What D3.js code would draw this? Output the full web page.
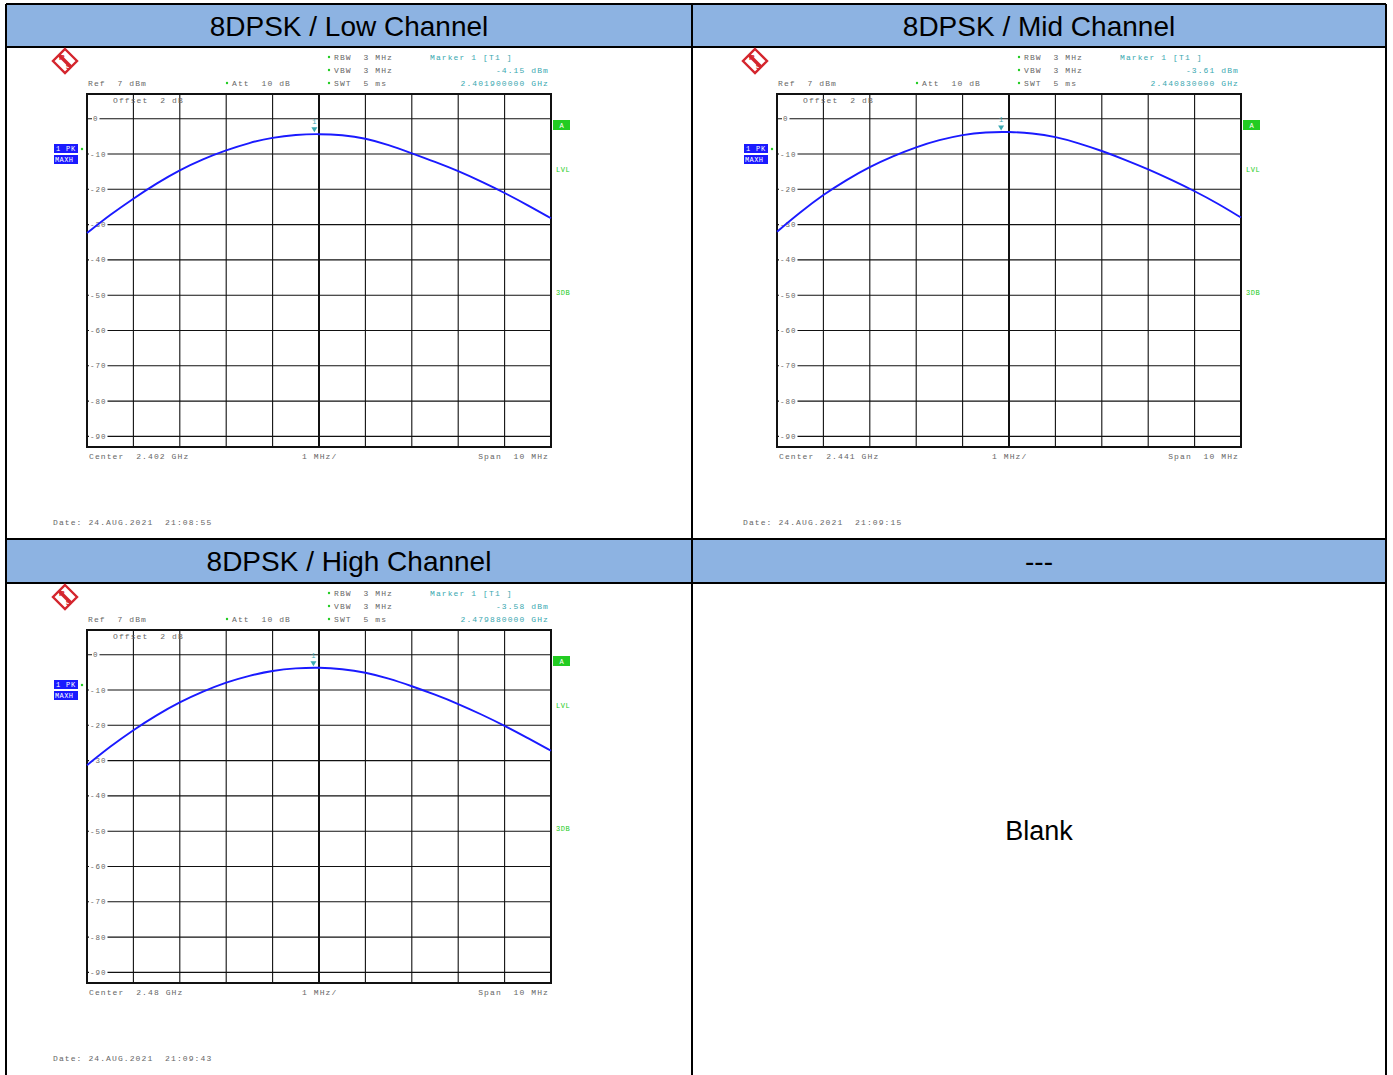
<!DOCTYPE html>
<html><head><meta charset="utf-8">
<script src="https://cdn.jsdelivr.net/npm/d3@7"></script>
<style>
html,body{margin:0;padding:0;background:#fff;}
svg{display:block;}
.mono{font-family:"Liberation Mono","DejaVu Sans Mono",monospace;font-size:8px;letter-spacing:1.1px;white-space:pre;}
</style></head>
<body><svg id="c" width="1393" height="1075"></svg>
<script>
// ---------- data ----------
const titles = ["8DPSK / Low Channel", "8DPSK / Mid Channel", "8DPSK / High Channel", "---"];
const freqOffsetsMHz = [-5, -4.5, -4, -3.5, -3, -2.5, -2, -1.5, -1, -0.5, 0, 0.5, 1, 1.5, 2, 2.5, 3, 3.5, 4, 4.5, 5];
const lowTrace  = [-32.4, -27.2, -22.6, -18.3, -14.5, -11.4, -8.9, -6.8, -5.3, -4.5, -4.3, -4.6, -5.5, -7.4, -9.8, -12.2, -14.8, -17.8, -21.0, -24.5, -28.2];
const midTrace  = [-32.0, -26.5, -21.5, -17.3, -13.6, -10.6, -8.0, -6.0, -4.5, -3.8, -3.7, -4.1, -5.1, -6.9, -9.1, -11.6, -14.3, -17.3, -20.5, -24.0, -28.0];
const highTrace = [-31.3, -26.0, -21.3, -17.1, -13.4, -10.4, -7.8, -5.9, -4.5, -3.8, -3.6, -4.0, -5.0, -6.7, -8.9, -11.3, -13.9, -16.9, -20.1, -23.6, -27.2];
const yTickValues = [0, -10, -20, -30, -40, -50, -60, -70, -80, -90];
const xGridMHz = [-4, -3, -2, -1, 0, 1, 2, 3, 4];
const centerLabels = ["Center  2.402 GHz", "Center  2.441 GHz", "Center  2.48 GHz"];
const markerOffsetsMHz = [-0.10, -0.17, -0.12];
const markerValues = [-4.15, -3.61, -3.58];
const markerLevelLabels = ["-4.15 dBm", "-3.61 dBm", "-3.58 dBm"];
const markerFreqLabels = ["2.401900000 GHz", "2.440830000 GHz", "2.479880000 GHz"];
const dateLabels = ["Date: 24.AUG.2021  21:08:55", "Date: 24.AUG.2021  21:09:15", "Date: 24.AUG.2021  21:09:43"];
const traces = [lowTrace, midTrace, highTrace];
const refLevel = 7, bottomLevel = -93;

// ---------- layout ----------
const svg = d3.select("#c");
const W = 1393, H = 1075;
const headerFill = "#8db3e2";
const tblL = 6, tblM = 692, tblR = 1386;
const rowsY = [4, 47, 539, 583];

svg.append("rect").attr("x", tblL).attr("y", rowsY[0]).attr("width", tblR - tblL).attr("height", rowsY[1] - rowsY[0]).attr("fill", headerFill);
svg.append("rect").attr("x", tblL).attr("y", rowsY[2]).attr("width", tblR - tblL).attr("height", rowsY[3] - rowsY[2]).attr("fill", headerFill);

const cellCenters = [(tblL + tblM) / 2, (tblM + tblR) / 2];
titles.forEach((t, i) => {
  const cx = cellCenters[i % 2];
  const cy = i < 2 ? (rowsY[0] + rowsY[1]) / 2 : (rowsY[2] + rowsY[3]) / 2;
  svg.append("text").attr("x", cx).attr("y", cy + 10)
    .attr("text-anchor", "middle")
    .attr("font-family", "Liberation Sans, Arial, sans-serif")
    .attr("font-size", 28).attr("fill", "#000").text(t);
});

svg.append("text").attr("x", cellCenters[1]).attr("y", 840)
  .attr("text-anchor", "middle").attr("font-family", "Liberation Sans, Arial, sans-serif")
  .attr("font-size", 27).attr("fill", "#000").text("Blank");

const lineCol = "#000";
[[tblL, rowsY[0], tblR, rowsY[0]], [tblL, rowsY[1], tblR, rowsY[1]], [tblL, rowsY[2], tblR, rowsY[2]], [tblL, rowsY[3], tblR, rowsY[3]],
 [tblL, rowsY[0], tblL, H], [tblM, rowsY[0], tblM, H], [tblR, rowsY[0], tblR, H]].forEach(l => {
  svg.append("line").attr("x1", l[0]).attr("y1", l[1]).attr("x2", l[2]).attr("y2", l[3])
    .attr("stroke", lineCol).attr("stroke-width", 2);
});

// ---------- panels ----------
const panelOffsets = [[0, 0], [690, 0], [0, 536]];
const gray = "#666", teal = "#3aa8b0", green = "#22cc22", blue = "#1a1aff", red = "#d4252d";

function txt(g, x, y, s, color, anchor) {
  return g.append("text").attr("class", "mono").attr("x", x).attr("y", y)
    .attr("fill", color).attr("text-anchor", anchor || "start").text(s);
}

panelOffsets.forEach((off, p) => {
  const g = svg.append("g").attr("transform", `translate(${off[0]},${off[1]})`);
  const gl = 87, gr = 551, gt = 94, gb = 447;
  const x = d3.scaleLinear().domain([-5, 5]).range([gl, gr]);
  const y = d3.scaleLinear().domain([bottomLevel, refLevel]).range([gb, gt]);

  // logo
  const lg = g.append("g").attr("transform", "translate(65,61)");
  lg.append("path").attr("d", "M0,-12 L12,0 L0,12 L-12,0 Z").attr("fill", "#fff").attr("stroke", red).attr("stroke-width", 2.4);
  lg.append("line").attr("x1", -6).attr("y1", -6).attr("x2", 6).attr("y2", 6).attr("stroke", red).attr("stroke-width", 3.5);
  lg.append("text").attr("x", -3).attr("y", -1).attr("font-family", "Liberation Sans, Arial").attr("font-weight", "bold").attr("font-size", 8).attr("fill", red).attr("text-anchor", "middle").text("R");
  lg.append("text").attr("x", 3.5).attr("y", 8).attr("font-family", "Liberation Sans, Arial").attr("font-weight", "bold").attr("font-size", 8).attr("fill", red).attr("text-anchor", "middle").text("S");

  const dot = (xx, yy) => g.append("circle").attr("cx", xx).attr("cy", yy).attr("r", 1.2).attr("fill", green);
  dot(329, 57); txt(g, 334, 60, "RBW  3 MHz", gray);
  dot(329, 70); txt(g, 334, 73, "VBW  3 MHz", gray);
  dot(329, 83); txt(g, 334, 86, "SWT  5 ms", gray);
  dot(227, 83); txt(g, 232, 86, "Att  10 dB", gray);
  txt(g, 88, 86, "Ref  7 dBm", gray);
  txt(g, 430, 60, "Marker 1 [T1 ]", teal);
  txt(g, 549, 73, markerLevelLabels[p], teal, "end");
  txt(g, 549, 86, markerFreqLabels[p], teal, "end");

  const grid = g.append("g");
  xGridMHz.forEach(v => {
    grid.append("line").attr("x1", x(v)).attr("x2", x(v)).attr("y1", gt).attr("y2", gb)
      .attr("stroke", "#111").attr("stroke-width", v === 0 ? 2 : 1.1);
  });
  yTickValues.forEach(v => {
    grid.append("line").attr("x1", gl).attr("x2", gr).attr("y1", y(v)).attr("y2", y(v))
      .attr("stroke", "#111").attr("stroke-width", 1.1);
  });
  yTickValues.forEach(v => {
    const s = v === 0 ? "0" : String(v);
    const lx = v === 0 ? 93 : 90;
    const w = s.length * 5.5 + 2;
    grid.append("rect").attr("x", lx - 1).attr("y", y(v) - 3).attr("width", w).attr("height", 6).attr("fill", "#fff");
    g.append("text").attr("class", "mono").attr("x", lx).attr("y", y(v) + 2.5)
      .attr("fill", gray).style("font-size", "7.5px").style("letter-spacing", "1px").text(s);
  });
  g.append("rect").attr("x", gl).attr("y", gt).attr("width", gr - gl).attr("height", gb - gt)
    .attr("fill", "none").attr("stroke", "#111").attr("stroke-width", 2);

  txt(g, 113, 103, "Offset  2 dB", gray);

  const line = d3.line().x((d, i) => x(freqOffsetsMHz[i])).y(d => y(d)).curve(d3.curveBasis);
  g.append("path").datum(traces[p]).attr("d", line)
    .attr("fill", "none").attr("stroke", blue).attr("stroke-width", 1.9);

  const mx = x(markerOffsetsMHz[p]), my = y(markerValues[p]);
  g.append("path").attr("d", `M${mx - 3},${my - 6} L${mx + 3},${my - 6} L${mx},${my - 1} Z`).attr("fill", teal);
  g.append("text").attr("class", "mono").attr("x", mx).attr("y", my - 9).attr("text-anchor", "middle")
    .attr("fill", teal).style("font-size", "7px").style("letter-spacing", "0px").text("1");

  g.append("rect").attr("x", 54).attr("y", 144).attr("width", 24).attr("height", 9).attr("fill", blue);
  g.append("text").attr("class", "mono").attr("x", 56).attr("y", 151).attr("fill", "#fff").style("font-size", "7px").style("letter-spacing", "0.8px").text("1 PK");
  g.append("rect").attr("x", 54).attr("y", 155).attr("width", 24).attr("height", 9).attr("fill", blue);
  g.append("text").attr("class", "mono").attr("x", 55).attr("y", 162).attr("fill", "#fff").style("font-size", "7px").style("letter-spacing", "0.4px").text("MAXH");
  dot(82, 149);

  g.append("rect").attr("x", 553).attr("y", 120).attr("width", 17).attr("height", 10).attr("fill", green);
  g.append("text").attr("class", "mono").attr("x", 561.5).attr("y", 128).attr("text-anchor", "middle").attr("fill", "#fff").style("font-size", "7px").style("letter-spacing", "0px").text("A");
  txt(g, 556, 172, "LVL", green).style("font-size", "7px").style("letter-spacing", "0.6px");
  txt(g, 556, 295, "3DB", green).style("font-size", "7px").style("letter-spacing", "0.6px");

  txt(g, 89, 459, centerLabels[p], gray);
  txt(g, 302, 459, "1 MHz/", gray);
  txt(g, 549, 459, "Span  10 MHz", gray, "end");
  txt(g, 53, 525, dateLabels[p], gray);
});
</script></body></html>
